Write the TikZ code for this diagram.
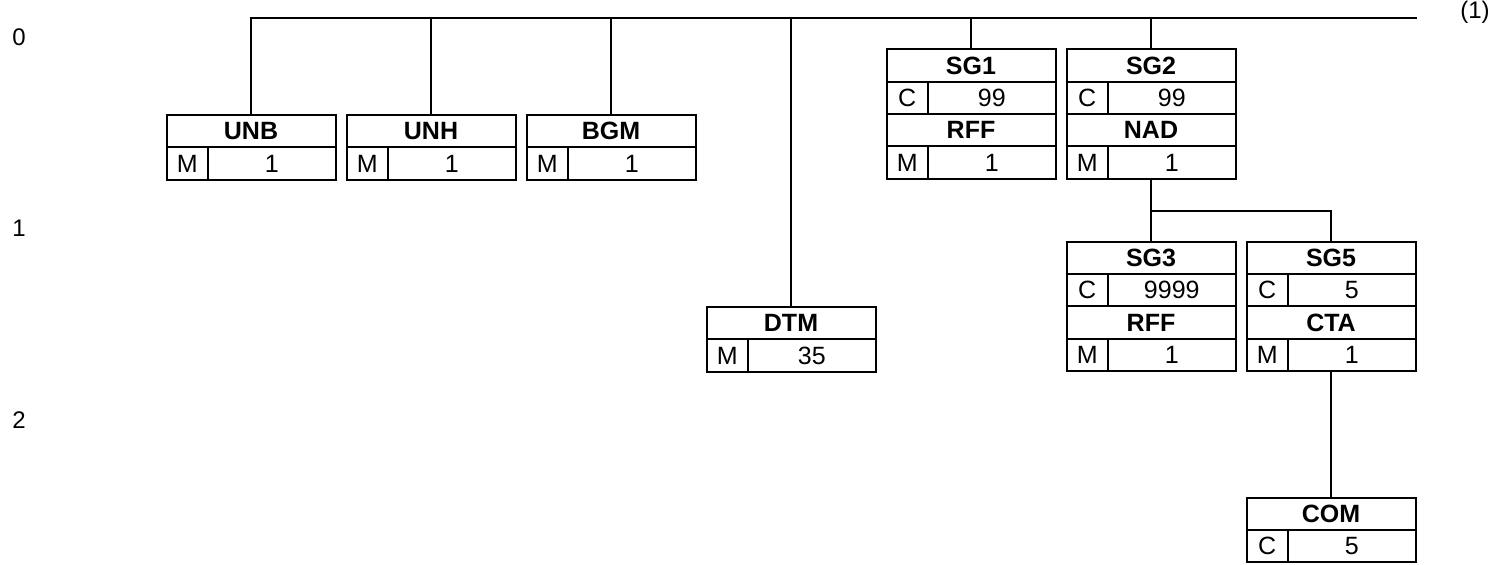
\documentclass[tikz,border=0pt]{standalone}
\usepackage{fontspec}
\setmainfont{Liberation Sans}
\usetikzlibrary{positioning}
\tikzset{
every picture/.style={line width=1pt},
seg/.style={draw, rectangle, outer sep=0pt, minimum width=84.5pt, minimum height=16.2pt, inner sep=0pt, font=\bfseries\fontsize{12.5}{14}\selectfont},
stat/.style={draw, rectangle, outer sep=0pt, minimum width=20.75pt, minimum height=16.2pt, inner sep=0pt, font=\fontsize{12.5}{14}\selectfont},
rep/.style={draw, rectangle, outer sep=0pt, minimum width=63.75pt, minimum height=16.2pt, inner sep=0pt, font=\fontsize{12.5}{14}\selectfont},
lvl/.style={inner sep=0pt, font=\fontsize{12}{14}\selectfont},
}

\begin{document}
\begin{tikzpicture}[x=0.5pt, y=-0.5pt]
            \useasboundingbox (0,0) rectangle (1505,565);
            % level numbers
            \node[lvl] (lv0) at (19,37.5) {0};
            \node[lvl] (lv1) at (19,228.5) {1};
            \node[lvl] (lv2) at (19,420) {2};
            \node[lvl] (note1) at (1475,12) {(1)};
            % level 0
            \node[seg, anchor=north] (unb) at (251,115) {UNB};
            \node[stat, anchor=north west] (unbS) at (unb.south west) {M};
            \node[rep, anchor=north east] (unbR) at (unb.south east) {1};
            \node[seg, anchor=north] (unh) at (431,115) {UNH};
            \node[stat, anchor=north west] (unhS) at (unh.south west) {M};
            \node[rep, anchor=north east] (unhR) at (unh.south east) {1};
            \node[seg, anchor=north] (bgm) at (611,115) {BGM};
            \node[stat, anchor=north west] (bgmS) at (bgm.south west) {M};
            \node[rep, anchor=north east] (bgmR) at (bgm.south east) {1};
            \node[seg, anchor=north] (dtm) at (791,307) {DTM};
            \node[stat, anchor=north west] (dtmS) at (dtm.south west) {M};
            \node[rep, anchor=north east] (dtmR) at (dtm.south east) {35};
            % SG1
            \node[seg, anchor=north] (sg1) at (971,49.3) {SG1};
            \node[stat, anchor=north west] (sg1S) at (sg1.south west) {C};
            \node[rep, anchor=north east] (sg1R) at (sg1.south east) {99};
            \node[seg, anchor=north] (rff1) at (sg1S.south -| sg1) {RFF};
            \node[stat, anchor=north west] (rff1S) at (rff1.south west) {M};
            \node[rep, anchor=north east] (rff1R) at (rff1.south east) {1};
            % SG2
            \node[seg, anchor=north] (sg2) at (1151,49.3) {SG2};
            \node[stat, anchor=north west] (sg2S) at (sg2.south west) {C};
            \node[rep, anchor=north east] (sg2R) at (sg2.south east) {99};
            \node[seg, anchor=north] (nad) at (sg2S.south -| sg2) {NAD};
            \node[stat, anchor=north west] (nadS) at (nad.south west) {M};
            \node[rep, anchor=north east] (nadR) at (nad.south east) {1};
            % SG3
            \node[seg, anchor=north] (sg3) at (1151,241.7) {SG3};
            \node[stat, anchor=north west] (sg3S) at (sg3.south west) {C};
            \node[rep, anchor=north east] (sg3R) at (sg3.south east) {9999};
            \node[seg, anchor=north] (rff3) at (sg3S.south -| sg3) {RFF};
            \node[stat, anchor=north west] (rff3S) at (rff3.south west) {M};
            \node[rep, anchor=north east] (rff3R) at (rff3.south east) {1};
            % SG5
            \node[seg, anchor=north] (sg5) at (1331,241.7) {SG5};
            \node[stat, anchor=north west] (sg5S) at (sg5.south west) {C};
            \node[rep, anchor=north east] (sg5R) at (sg5.south east) {5};
            \node[seg, anchor=north] (cta) at (sg5S.south -| sg5) {CTA};
            \node[stat, anchor=north west] (ctaS) at (cta.south west) {M};
            \node[rep, anchor=north east] (ctaR) at (cta.south east) {1};
            % level 2
            \node[seg, anchor=north] (com) at (1331,497.7) {COM};
            \node[stat, anchor=north west] (comS) at (com.south west) {C};
            \node[rep, anchor=north east] (comR) at (com.south east) {5};
            % connectors
            \coordinate (topEnd) at (1417,18.3);
            \coordinate (nadJ) at (1151,211);
            \draw[-] (unb.north) |- (topEnd);
            \foreach \n in {unh,bgm,dtm,sg1,sg2}
                \draw[-] (\n.north) -- (\n.north |- topEnd);
            \draw[-] (nad.south |- nadR.south) -- (nadJ) -| (sg5.north);
            \draw[-] (nadJ) -- (sg3.north);
            \draw[-] (cta.south |- ctaR.south) -- (com.north);
        \end{tikzpicture}
\end{document}
